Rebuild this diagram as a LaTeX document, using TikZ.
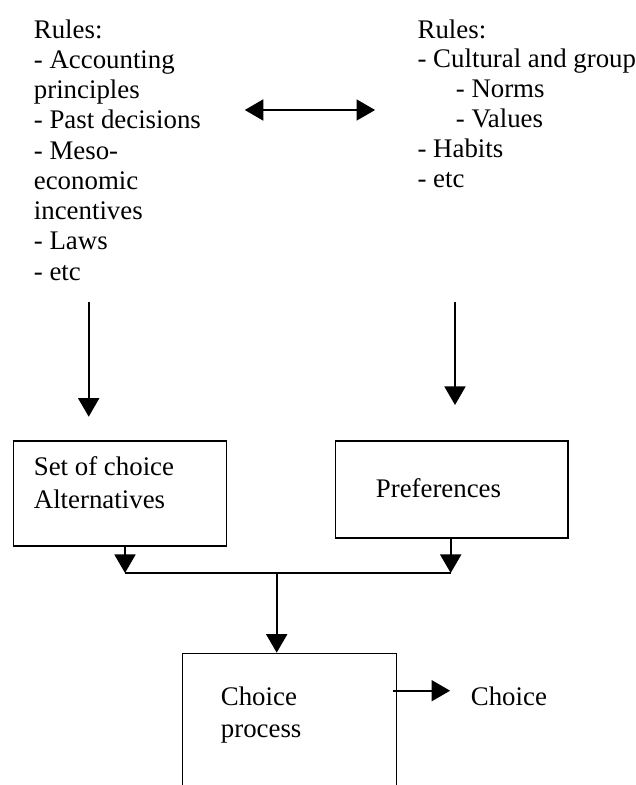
\documentclass[tikz,border=0pt]{standalone}
\usepackage{fontspec}
\setmainfont{Liberation Serif}
\usetikzlibrary{positioning,calc,arrows.meta}
\tikzset{>={Triangle[length=8.3pt,width=9.4pt]}}
\newcommand{\upx}{0.447pt}

\begin{document}
\begin{tikzpicture}[
    x=0.447pt, y=-0.447pt,
    line width=0.8pt,
    rules/.style={align=left, inner sep=0pt, anchor=base west},
    block/.style={draw, inner sep=0pt, anchor=north west}
]
\useasboundingbox (0,0) rectangle (636,785);
\clip (0,0) rectangle (636,785);

\node[rules, font=\fontsize{12}{13.52}\selectfont] (econ) at (33,280) {Rules:\\- Accounting\\principles\\- Past decisions\\- Meso-\\economic\\incentives\\- Laws\\- etc};
\node[rules, font=\fontsize{12}{13.32}\selectfont] (culture) at (416.7,187) {Rules:\\- Cultural and group\\\hspace*{17.1pt}- Norms\\\hspace*{17.1pt}- Values\\- Habits\\- etc};

\node[block, minimum width=213*\upx, minimum height=105*\upx] (alt) at (12.7,440) {};
\node[block, minimum width=232.3*\upx, minimum height=97*\upx] (pref) at (334.7,440) {};
\node[block, minimum width=214*\upx, minimum height=200*\upx] (proc) at (181.7,652.7) {};

\node[rules, font=\fontsize{12}{14.75}\selectfont] (alt-text) at (33,508) {Set of choice\\Alternatives};
\node[rules, font=\fontsize{12}{14.3}\selectfont] (pref-text) at (375,497) {Preferences};
\node[rules, font=\fontsize{12}{14.3}\selectfont] (proc-text) at (220,737) {Choice\\process};
\node[rules, font=\fontsize{12}{14.3}\selectfont] (choice) at (470,705) {Choice};

\coordinate (mid) at (300,110);
\coordinate (econ-out) at (88.7,301.7);
\coordinate (alt-in) at (88.7,416.7);
\coordinate (culture-out) at (455,301.7);
\coordinate (pref-in) at (455,405);
\coordinate (join-l) at (125,573);
\coordinate (join-r) at (450.7,573);
\coordinate (join-m) at (276.7,573);
\coordinate (proc-out) at (392.7,690.7);

\draw[<->, shorten <=19.2pt, shorten >=18.6pt] (econ.east |- mid) -- (culture.west |- mid);
\draw[->] (econ-out) -- (alt-in);
\draw[->] (culture-out) -- (pref-in);
\draw[->] (alt.south -| join-l) -- (join-l);
\draw[->] (pref.south -| join-r) -- (join-r);
\draw (join-l) -- (join-r);
\draw[->] (join-m) -- (proc.north -| join-m);
\draw[->, shorten >=8.9pt] (proc-out) -- (choice.west |- proc-out);
\end{tikzpicture}
\end{document}
